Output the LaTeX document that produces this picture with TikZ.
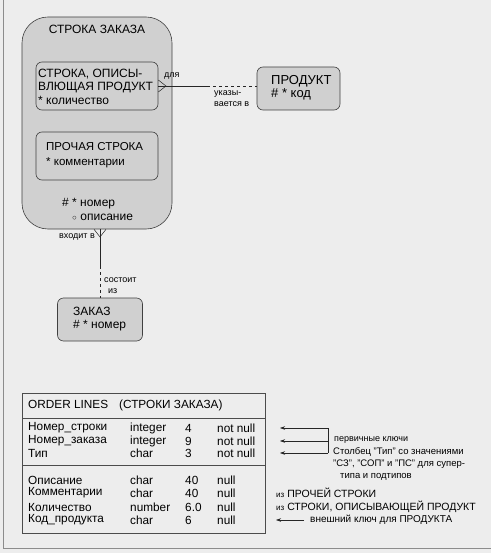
\documentclass[tikz,border=0pt]{standalone}
\usepackage{fontspec}
\setmainfont{Liberation Sans}
\usetikzlibrary{arrows.meta}

\definecolor{paper}{HTML}{EDEDED}
\definecolor{shade}{HTML}{D0D0D0}

\tikzset{
	entity/.style={draw=black!75, fill=shade, line width=0.6pt, rounded corners=6pt, inner sep=0pt},
	etext/.style={anchor=west, align=left, inner sep=0pt, font=\fontsize{12}{13.5}\selectfont},
	rel/.style={black!85, line width=0.5pt},
	rellabel/.style={inner sep=0pt, align=left, font=\fontsize{9}{11}\selectfont},
	cell/.style={anchor=west, inner sep=0pt, font=\fontsize{11.8}{12}\selectfont},
	note/.style={anchor=west, inner sep=0pt, align=left, font=\fontsize{9.5}{12}\selectfont},
	pointer/.style={black!85, line width=0.5pt, -{Stealth[length=5pt, width=3.5pt]}},
}

\begin{document}
\begin{tikzpicture}[x=1pt, y=-1pt]
	\fill [paper] (0,0) rectangle (491,553);
	\useasboundingbox (0,0) rectangle (491,553);
	\draw [black!45, line width=0.8pt] (3,0) -- (3,548) -- (491,548);

	% Entity with subtypes
	\node (OrderLine) [entity, rounded corners=26pt, minimum width=150pt, minimum height=212pt] at (97,123) {};
	\node (OrderLineName) [etext, anchor=center] at (97,29) {СТРОКА ЗАКАЗА};

	\node (LineDesc) [entity, minimum width=122pt, minimum height=48pt] at (97,86) {};
	\node (LineDescText) [etext] at (38,86.5) {СТРОКА, ОПИСЫ-\\ВЛЮЩАЯ ПРОДУКТ\\* количество};

	\node (LineOther) [entity, minimum width=122pt, minimum height=48pt] at (97,156) {};
	\node (LineOtherText) [etext, font=\fontsize{11.5}{15}\selectfont] at (46,155.5) {ПРОЧАЯ СТРОКА\\* комментарии};

	\node (LineNum) [etext] at (62,204) {\# * номер};
	\node (LineInfo) [etext] at (72,217.5) {{\fontsize{8}{8}\selectfont ○} описание};

	% Other entities
	\node (Product) [entity, minimum width=83pt, minimum height=43pt] at (298.5,88.5) {};
	\node (ProductText) [etext, font=\fontsize{13}{13.5}\selectfont] at (271,88) {ПРОДУКТ\\\# * код};

	\node (Order) [entity, minimum width=85pt, minimum height=43pt] at (100,319.5) {};
	\node (OrderText) [etext] at (73,319) {ЗАКАЗ\\\# * номер};

	% Relationship: line -- product
	\coordinate (DescFork) at (166,86);
	\coordinate (DescMid) at (207,86);
	\draw [rel] (LineDesc.east) -- (DescMid);
	\draw [rel, dashed] (DescMid) -- (LineDesc.east -| Product.west);
	\draw [rel] ([yshift=6pt]LineDesc.east) -- (DescFork) -- ([yshift=-6pt]LineDesc.east);
	\node (ForLabel) [rellabel, anchor=west] at (164,76) {для};
	\node (PointLabel) [rellabel, anchor=west] at (214,99) {указы-\\вается в};

	% Relationship: line -- order
	\coordinate (OrderJoin) at (Order.north |- OrderLine.south);
	\coordinate (OrderFork) at (100,237);
	\coordinate (OrderMid) at (100,266);
	\draw [rel] (OrderJoin) -- (OrderMid);
	\draw [rel, dashed] (OrderMid) -- (Order.north);
	\draw [rel] ([xshift=-6pt]OrderJoin) -- (OrderFork) -- ([xshift=6pt]OrderJoin);
	\node (InLabel) [rellabel, anchor=east] at (95,237) {входит в};
	\node (MadeLabel) [rellabel, anchor=west] at (104,286) {состоит\\\hspace{4pt}из};

	% Table
	\node (Table) [draw=black!70, line width=0.6pt, minimum width=243pt, minimum height=140pt, anchor=north west, inner sep=0pt] at (22,393) {};
	\draw [black!70, line width=0.6pt] (22,418) -- (265,418);
	\draw [black!70, line width=0.6pt] (22,465) -- (265,465);
	\node (TableHead) [cell] at (28,405) {ORDER LINES\hspace{11pt}(СТРОКИ ЗАКАЗА)};

	\node (NameR1) [cell] at (28,428) {Номер\_строки};
	\node (TypeR1) [cell] at (130,428) {integer};
	\node (SizeR1) [cell] at (185,428) {4};
	\node (NullR1) [cell] at (217,428) {not null};
	\node (NameR2) [cell] at (28,441) {Номер\_заказа};
	\node (TypeR2) [cell] at (130,441) {integer};
	\node (SizeR2) [cell] at (185,441) {9};
	\node (NullR2) [cell] at (217,441) {not null};
	\node (NameR3) [cell] at (28,453) {Тип};
	\node (TypeR3) [cell] at (130,453) {char};
	\node (SizeR3) [cell] at (185,453) {3};
	\node (NullR3) [cell] at (217,453) {not null};

	\node (NameR4) [cell] at (28,480) {Описание};
	\node (TypeR4) [cell] at (130,480) {char};
	\node (SizeR4) [cell] at (185,480) {40};
	\node (NullR4) [cell] at (217,480) {null};
	\node (NameR5) [cell] at (28,493) {Комментарии};
	\node (TypeR5) [cell] at (130,493) {char};
	\node (SizeR5) [cell] at (185,493) {40};
	\node (NullR5) [cell] at (217,493) {null};
	\node (NameR6) [cell] at (28,507) {Количество};
	\node (TypeR6) [cell] at (130,507) {number};
	\node (SizeR6) [cell] at (185,507) {6.0};
	\node (NullR6) [cell] at (217,507) {null};
	\node (NameR7) [cell] at (28,520) {Код\_продукта};
	\node (TypeR7) [cell] at (130,520) {char};
	\node (SizeR7) [cell] at (185,520) {6};
	\node (NullR7) [cell] at (217,520) {null};

	% Notes on the keys
	\coordinate (KeyTop) at (328,428);
	\coordinate (KeyMid) at (328,441);
	\coordinate (KeyEnd) at (328,453);
	\coordinate (KeyTip1) at (280,428);
	\coordinate (KeyTip2) at (280,441);
	\coordinate (KeyTip3) at (280,453);
	\draw [rel] (KeyTop) -- (KeyEnd);
	\draw [pointer] (KeyTop) -- (KeyTip1);
	\draw [pointer] (KeyMid) -- (KeyTip2);
	\draw [pointer] (KeyEnd) -- (KeyTip3);
	\node (KeyNote) [note, font=\fontsize{9}{10}\selectfont] at (334,440) {первичные ключи};
	\node (TypeNote) [note] at (333,464) {Столбец "Тип" со значениями\\"СЗ", "СОП" и "ПС" для супер-\\\hspace{7pt}типа и подтипов};
	\node (OtherNote) [note, font=\fontsize{10.5}{12}\selectfont] at (276,493) {{\fontsize{8}{9}\selectfont из} ПРОЧЕЙ СТРОКИ};
	\node (DescNote) [note, font=\fontsize{10.5}{12}\selectfont] at (276,507) {{\fontsize{8}{9}\selectfont из} СТРОКИ, ОПИСЫВАЮЩЕЙ ПРОДУКТ};
	\coordinate (ForeignStart) at (304,520);
	\coordinate (ForeignTip) at (276,520);
	\draw [pointer] (ForeignStart) -- (ForeignTip);
	\node (ForeignNote) [note, font=\fontsize{10}{10}\selectfont] at (310,520) {внешний ключ для ПРОДУКТА};
\end{tikzpicture}
\end{document}
